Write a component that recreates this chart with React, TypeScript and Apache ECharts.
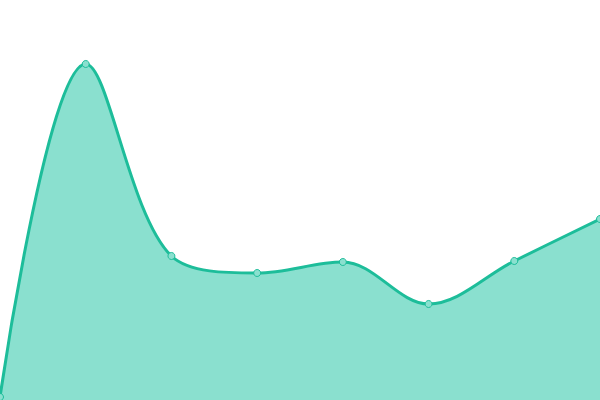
import React, { useEffect, useRef } from 'react'
import * as echarts from 'echarts'

const categories = ['A', 'B', 'C', 'D', 'E', 'F', 'G', 'H']
const values = [3, 336, 144, 127, 138, 96, 139, 181]

const App: React.FC = () => {
  const chartRef = useRef<HTMLDivElement>(null)

  useEffect(() => {
    if (!chartRef.current) return
    const chart = echarts.init(chartRef.current, undefined, { renderer: 'svg' })

    chart.setOption({
      animation: false,
      grid: { left: 0, right: 0, top: 0, bottom: 0 },
      xAxis: {
        type: 'category',
        data: categories,
        boundaryGap: false,
        show: false
      },
      yAxis: {
        type: 'value',
        min: 0,
        max: 400,
        show: false
      },
      series: [
        {
          type: 'line',
          data: values,
          smooth: 0.35,
          symbol: 'circle',
          symbolSize: 7,
          lineStyle: { color: '#1dbd9a', width: 3 },
          itemStyle: { color: '#8ae0cf', borderColor: '#1dbd9a', borderWidth: 1 },
          areaStyle: { color: '#8ae0cf', opacity: 1 }
        }
      ]
    })

    return () => {
      chart.dispose()
    }
  }, [])

  return (
    <div
      ref={chartRef}
      style={{ position: 'absolute', left: 0, top: 0, width: 600, height: 400 }}
    />
  )
}

export default App
